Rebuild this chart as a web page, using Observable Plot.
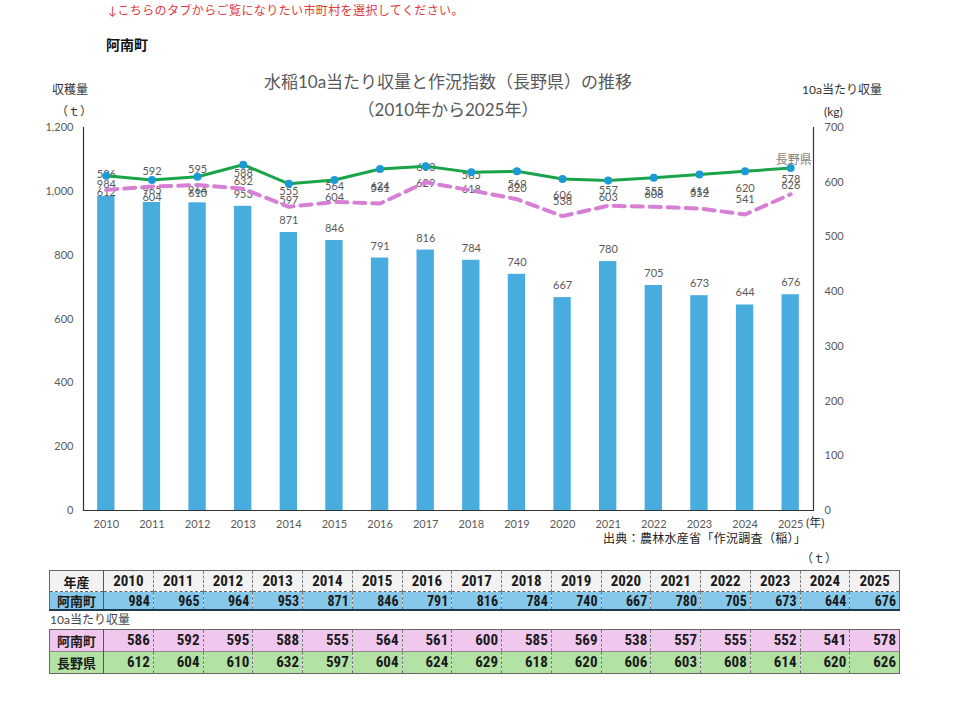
<!DOCTYPE html>
<html><head><meta charset="utf-8">
<script src="https://cdn.jsdelivr.net/npm/d3@7"></script>
<script src="https://cdn.jsdelivr.net/npm/@observablehq/plot@0.6"></script>
<style>
body{margin:0;background:#fff;font-family:Lato,"Noto Sans CJK JP",sans-serif;}
#root{position:relative;width:960px;height:701px;overflow:hidden;background:#fff;}
.abs{position:absolute;white-space:nowrap;line-height:1;}
#chart{position:absolute;left:0;top:60px;}
table{border-collapse:collapse;table-layout:fixed;position:absolute;left:49px;width:851px;
  font-family:"Liberation Sans Narrow","Roboto Condensed","Noto Sans CJK JP",sans-serif;font-weight:bold;color:#1a1a1a;}
td{padding:0 3px 0 0;border-left:1px dashed #7a7a7a;text-align:right;font-size:15px;overflow:hidden;line-height:1;}
td.h{text-align:center;padding:0;font-family:"Noto Sans CJK JP",sans-serif;font-size:13px;border-left:none;border-right:1px solid #555;}
tr.head td{text-align:center;padding:0;height:20px;background:#f2f2f2;font-family:"Liberation Sans Narrow","Roboto Condensed",sans-serif;font-size:15px;}
tr.head td.h{font-family:"Noto Sans CJK JP",sans-serif;font-size:13px;}
tr.blue td{height:17px;background:#86c8ea;font-size:14px;}
tr.blue td.h{font-size:13px;}
tr.pink td{height:21px;background:#f0c8ee;}
tr.green td{height:21px;background:#b3e3a4;}
</style></head><body><div id="root">
<div class="abs" style="left:108px;top:5px;font-size:12px;color:#e0393e;letter-spacing:0.4px;">↓こちらのタブからご覧になりたい市町村を選択してください。</div>
<div class="abs" style="left:106px;top:38px;font-size:14px;font-weight:bold;color:#111;">阿南町</div>
<div class="abs" style="left:263px;top:73px;width:370px;text-align:center;font-size:17px;color:#595959;">水稲10a当たり収量と作況指数（長野県）の推移</div>
<div class="abs" style="left:263px;top:101px;width:370px;text-align:center;font-size:17px;color:#595959;">（2010年から2025年）</div>
<div class="abs" style="left:52px;top:84px;font-size:12px;color:#333;">収穫量</div>
<div class="abs" style="left:56px;top:106px;font-size:12px;color:#333;">（ｔ）</div>
<div class="abs" style="left:802px;top:84px;font-size:12px;color:#333;">10a当たり収量</div>
<div class="abs" style="left:824px;top:106px;font-size:12px;color:#333;">(kg)</div>
<div id="chart"></div>
<div class="abs" style="left:806px;top:517px;font-size:12px;color:#333;">(年)</div>
<div class="abs" style="left:603px;top:533px;font-size:12px;color:#222;letter-spacing:0.3px;">出典：農林水産省「作況調査（稲）」</div>
<div class="abs" style="left:801px;top:553px;font-size:12px;color:#333;">（ｔ）</div>
<div class="abs" style="left:50px;top:614px;font-size:12px;color:#444;">10a当たり収量</div>
<div id="tables"></div>
</div>
<script>
const years = [2010,2011,2012,2013,2014,2015,2016,2017,2018,2019,2020,2021,2022,2023,2024,2025];
const ananTons = [984,965,964,953,871,846,791,816,784,740,667,780,705,673,644,676];
const ananKg = [586,592,595,588,555,564,561,600,585,569,538,557,555,552,541,578];
const naganoKg = [612,604,610,632,597,604,624,629,618,620,606,603,608,614,620,626];
const leftTicks = [0,200,400,600,800,1000,1200];
const rightTicks = [0,100,200,300,400,500,600,700];
const rowLabels = ["年産","阿南町","阿南町","長野県"];

const K = 1200/700;
const rows = years.map((y,i)=>({year:String(y), t:ananTons[i], anan:ananKg[i]*K, nagano:naganoKg[i]*K, ananV:ananKg[i], naganoV:naganoKg[i]}));

const chart = Plot.plot({
  width:960, height:490, marginTop:67, marginBottom:40, marginLeft:83, marginRight:147,
  style:{fontFamily:'Lato,"Noto Sans CJK JP",sans-serif', fontSize:"11px", color:"#595959", background:"transparent"},
  x:{type:"band", domain:years.map(String), paddingInner:0.62, paddingOuter:0.31, round:false, label:null},
  y:{domain:[0,1200], label:null},
  marks:[
    Plot.barY(rows,{x:"year", y:"t", fill:"#49acdf"}),
    Plot.axisX({tickSize:0, tickPadding:10, label:null, fontSize:11}),
    Plot.axisY({anchor:"left", ticks:leftTicks, tickFormat:d3.format(","), tickSize:0, tickPadding:10, label:null, fontSize:11}),
    Plot.axisY({anchor:"right", ticks:rightTicks.map(v=>v*K), tickFormat:d=>Math.round(d/K), tickSize:0, tickPadding:11, label:null, fontSize:11}),
    Plot.text(rows,{x:"year", y:"t", text:"t", dy:-12, fill:"#595959", fontSize:11}),
    Plot.text(rows,{x:"year", y:"anan", text:"ananV", dy:-15, fill:"#595959", fontSize:11}),
    Plot.text(rows,{x:"year", y:"nagano", text:"naganoV", dy:17, fill:"#595959", fontSize:11}),
    Plot.line(rows,{x:"year", y:"anan", stroke:"#d67fd5", strokeWidth:4, strokeDasharray:"11,7"}),
    Plot.line(rows,{x:"year", y:"nagano", stroke:"#1aa449", strokeWidth:3}),
    Plot.dot(rows,{x:"year", y:"nagano", r:4, fill:"#1c9ad6"}),
    Plot.text(rows.slice(-1),{x:"year", y:"nagano", text:()=>"長野県", dy:-8, dx:3, fill:"#7f7f7f", fontSize:12}),
    Plot.ruleY([0],{stroke:"#333", strokeWidth:1.2}),
    Plot.frame({anchor:"left", stroke:"#333", strokeWidth:1.2}),
    Plot.frame({anchor:"right", stroke:"#333", strokeWidth:1.2})
  ]
});
document.getElementById("chart").appendChild(chart);

function makeTable(top, specs){
  const tbl = document.createElement("table");
  tbl.style.top = top + "px";
  const cg = document.createElement("colgroup");
  const c0 = document.createElement("col"); c0.style.width = "54px"; cg.appendChild(c0);
  years.forEach(()=>{const c=document.createElement("col"); cg.appendChild(c);});
  tbl.appendChild(cg);
  specs.forEach(s=>{
    const tr = document.createElement("tr"); tr.className = s.cls;
    const th = document.createElement("td"); th.className="h"; th.textContent = s.label; tr.appendChild(th);
    s.values.forEach(v=>{const td=document.createElement("td"); td.textContent=v; tr.appendChild(td);});
    tbl.appendChild(tr);
  });
  return tbl;
}
const t1 = makeTable(570,[{cls:"head",label:rowLabels[0],values:years},{cls:"blue",label:rowLabels[1],values:ananTons}]);
t1.style.border = "1px solid #666";
t1.querySelector("tr.blue").style.borderBottom = "2px solid #1d3b4f";
t1.querySelector("tr.head").style.borderBottom = "1px dashed #666";
const t2 = makeTable(629,[{cls:"pink",label:rowLabels[2],values:ananKg},{cls:"green",label:rowLabels[3],values:naganoKg}]);
t2.style.border = "1px solid #666";
t2.querySelector("tr.pink").style.borderBottom = "1px solid #888";
const tw = document.getElementById("tables");
tw.appendChild(t1); tw.appendChild(t2);
</script>
</body></html>
